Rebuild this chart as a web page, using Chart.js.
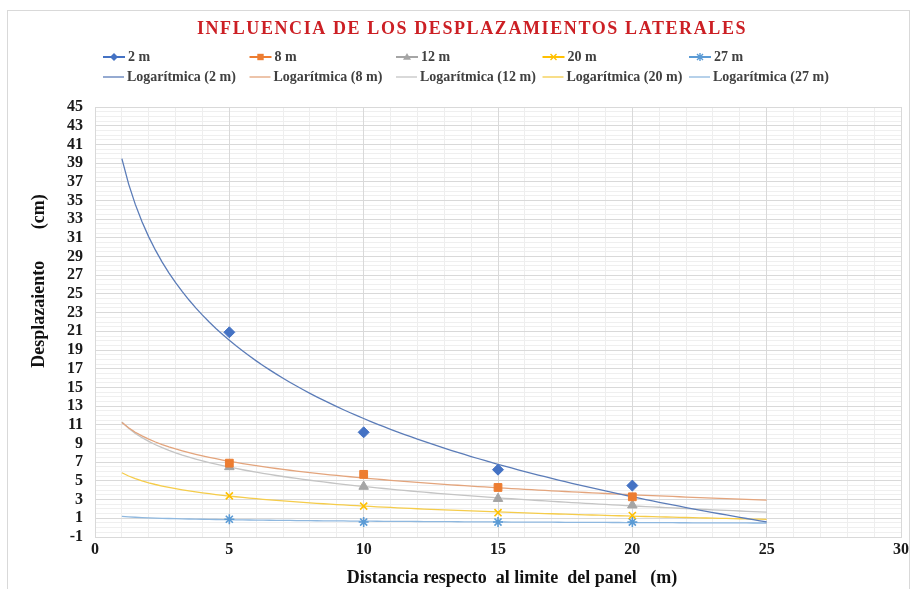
<!DOCTYPE html>
<html>
<head>
<meta charset="utf-8">
<script src="https://cdn.jsdelivr.net/npm/chart.js@4.4.1/dist/chart.umd.min.js"></script>
<style>
    html, body { margin: 0; padding: 0; background: #ffffff; }
    #grafico { display: block; }
</style>
</head>
<body>
<canvas id="grafico" width="912" height="589"></canvas>
<script>
// datos
const distancias = [5, 10, 15, 20];
const desplaz2m = [20.9, 10.2, 6.2, 4.5];
const desplaz8m = [6.9, 5.7, 4.3, 3.3];
const desplaz12m = [6.5, 4.4, 3.1, 2.4];
const desplaz20m = [3.4, 2.3, 1.6, 1.3];
const desplaz27m = [0.9, 0.6, 0.6, 0.6];

const series = ["2 m", "8 m", "12 m", "20 m", "27 m"];
const valores = [desplaz2m, desplaz8m, desplaz12m, desplaz20m, desplaz27m];
const colores = ["#4472c4", "#ed7d31", "#a5a5a5", "#ffc000", "#5b9bd5"];
const coloresTendencia = ["#5b7cb8", "#e3a47c", "#c4c4c4", "#f5cc4a", "#8fb8df"];
const marcadores = ["rectRot", "rect", "triangle", "crossRot", "star"];

// rango de la linea de tendencia (como en Excel)
const tendenciaDesde = 1;
const tendenciaHasta = 25;

const ticksX = { min: 0, max: 30, paso: 5 };
const ticksY = { min: -1, max: 45, paso: 2 };

const titulo = "INFLUENCIA DE LOS DESPLAZAMIENTOS LATERALES";
const tituloX = "Distancia respecto  al limite  del panel   (m)";
const tituloY = "Desplazaiento       (cm)";

const SERIF = "'Liberation Serif', 'Times New Roman', serif";

// ajuste logaritmico por minimos cuadrados: y = a ln(x) + b
function ajusteLog(xs, ys) {
    const lx = xs.map(x => Math.log(x));
    const mx = lx.reduce((s, v) => s + v, 0) / lx.length;
    const my = ys.reduce((s, v) => s + v, 0) / ys.length;
    let sxy = 0, sxx = 0;
    lx.forEach((v, i) => {
        sxy += (v - mx) * (ys[i] - my);
        sxx += (v - mx) * (v - mx);
    });
    const a = sxy / sxx;
    return { a: a, b: my - a * mx };
}

function curvaTendencia(ys) {
    const { a, b } = ajusteLog(distancias, ys);
    const pts = [];
    for (let x = tendenciaDesde; x <= tendenciaHasta + 1e-9; x += 0.25) {
        pts.push({ x: x, y: a * Math.log(x) + b });
    }
    return pts;
}

const datasets = [];
valores.forEach((ys, i) => {
    datasets.push({
        label: series[i],
        data: distancias.map((x, j) => ({ x: x, y: ys[j] })),
        showLine: false,
        pointStyle: marcadores[i],
        pointRadius: i < 3 ? 5.5 : 5,
        borderColor: colores[i],
        backgroundColor: colores[i],
        pointBorderWidth: i < 3 ? 1 : 1.6
    });
});
valores.forEach((ys, i) => {
    datasets.push({
        label: "Logarítmica (" + series[i] + ")",
        data: curvaTendencia(ys),
        showLine: true,
        pointRadius: 0,
        borderColor: coloresTendencia[i],
        borderWidth: 1.3,
        tension: 0
    });
});

function dibujarMarcador(ctx, tipo, x, y, r, color) {
    ctx.save();
    ctx.fillStyle = color;
    ctx.strokeStyle = color;
    ctx.lineWidth = 1.4;
    ctx.beginPath();
    if (tipo === "rectRot") {
        ctx.moveTo(x, y - r); ctx.lineTo(x + r, y); ctx.lineTo(x, y + r); ctx.lineTo(x - r, y);
        ctx.closePath(); ctx.fill();
    } else if (tipo === "rect") {
        ctx.rect(x - r * 0.8, y - r * 0.8, r * 1.6, r * 1.6); ctx.fill();
    } else if (tipo === "triangle") {
        ctx.moveTo(x, y - r); ctx.lineTo(x + r, y + r * 0.7); ctx.lineTo(x - r, y + r * 0.7);
        ctx.closePath(); ctx.fill();
    } else {
        const d = r * 0.75;
        ctx.moveTo(x - d, y - d); ctx.lineTo(x + d, y + d);
        ctx.moveTo(x - d, y + d); ctx.lineTo(x + d, y - d);
        if (tipo === "star") {
            ctx.moveTo(x, y - r); ctx.lineTo(x, y + r);
            ctx.moveTo(x - r, y); ctx.lineTo(x + r, y);
        }
        ctx.stroke();
    }
    ctx.restore();
}

const textosExtra = {
    id: "textosExtra",
    afterDraw(chart) {
        const ctx = chart.ctx;
        ctx.save();

        // marco exterior
        ctx.strokeStyle = "#d9d9d9";
        ctx.lineWidth = 1;
        ctx.strokeRect(7.5, 10.5, 902, 600);

        // titulo
        ctx.fillStyle = "#cc1f24";
        ctx.font = "bold 18px " + SERIF;
        ctx.textAlign = "center";
        ctx.textBaseline = "middle";
        ctx.letterSpacing = "1.6px";
        ctx.fillText(titulo, 472, 29);
        ctx.letterSpacing = "0px";

        // leyenda en 5 columnas
        ctx.font = "bold 14px " + SERIF;
        ctx.textAlign = "left";
        series.forEach((nombre, i) => {
            const x0 = 103 + i * 146.5;
            ctx.strokeStyle = colores[i];
            ctx.lineWidth = 2;
            ctx.beginPath(); ctx.moveTo(x0, 57); ctx.lineTo(x0 + 22, 57); ctx.stroke();
            dibujarMarcador(ctx, marcadores[i], x0 + 11, 57, 4, colores[i]);
            ctx.fillStyle = "#404040";
            ctx.fillText(nombre, x0 + 25, 57);

            ctx.strokeStyle = coloresTendencia[i];
            ctx.lineWidth = 1.3;
            ctx.beginPath(); ctx.moveTo(x0, 77); ctx.lineTo(x0 + 21, 77); ctx.stroke();
            ctx.fillStyle = "#404040";
            ctx.fillText("Logarítmica (" + nombre + ")", x0 + 24, 77);
        });

        // titulos de ejes
        ctx.fillStyle = "#111111";
        ctx.font = "bold 18px " + SERIF;
        ctx.textAlign = "center";
        ctx.fillText(tituloX, 512, 578);

        ctx.translate(39, 281);
        ctx.rotate(-Math.PI / 2);
        ctx.font = "bold 18px " + SERIF;
        ctx.fillText(tituloY, 0, 0);
        ctx.restore();
    }
};

const fuenteTicks = { family: SERIF, size: 16, weight: "bold" };

new Chart(document.getElementById("grafico").getContext("2d"), {
    type: "scatter",
    data: { datasets: datasets },
    options: {
        responsive: false,
        animation: false,
        devicePixelRatio: 1,
        layout: { padding: { top: 107, right: 9, left: 0, bottom: 0 } },
        plugins: {
            legend: { display: false },
            title: { display: false },
            tooltip: { enabled: false }
        },
        scales: {
            xMenor: {
                type: "linear", position: "bottom", min: ticksX.min, max: ticksX.max, z: -1,
                ticks: { display: false, stepSize: 1 },
                grid: { color: "#eeeeee", drawTicks: false },
                border: { display: false },
                afterFit: s => { s.height = 0; }
            },
            yMenor: {
                type: "linear", position: "left", min: ticksY.min, max: ticksY.max, z: -1,
                ticks: { display: false, stepSize: 0.5 },
                grid: { color: "#efefef", drawTicks: false },
                border: { display: false },
                afterFit: s => { s.width = 0; }
            },
            x: {
                type: "linear", position: "bottom", min: ticksX.min, max: ticksX.max,
                ticks: { stepSize: ticksX.paso, font: fuenteTicks, color: "#1a1a1a", padding: 3, autoSkip: false, maxRotation: 0 },
                grid: { color: "#d9d9d9", drawTicks: false },
                border: { color: "#d9d9d9" },
                afterFit: s => { s.height = 52; }
            },
            y: {
                type: "linear", position: "left", min: ticksY.min, max: ticksY.max,
                ticks: { stepSize: ticksY.paso, font: fuenteTicks, color: "#1a1a1a", padding: 12, autoSkip: false },
                grid: { color: "#d9d9d9", drawTicks: false },
                border: { color: "#d9d9d9" },
                afterFit: s => { s.width = 95; }
            }
        }
    },
    plugins: [textosExtra]
});
</script>
</body>
</html>
